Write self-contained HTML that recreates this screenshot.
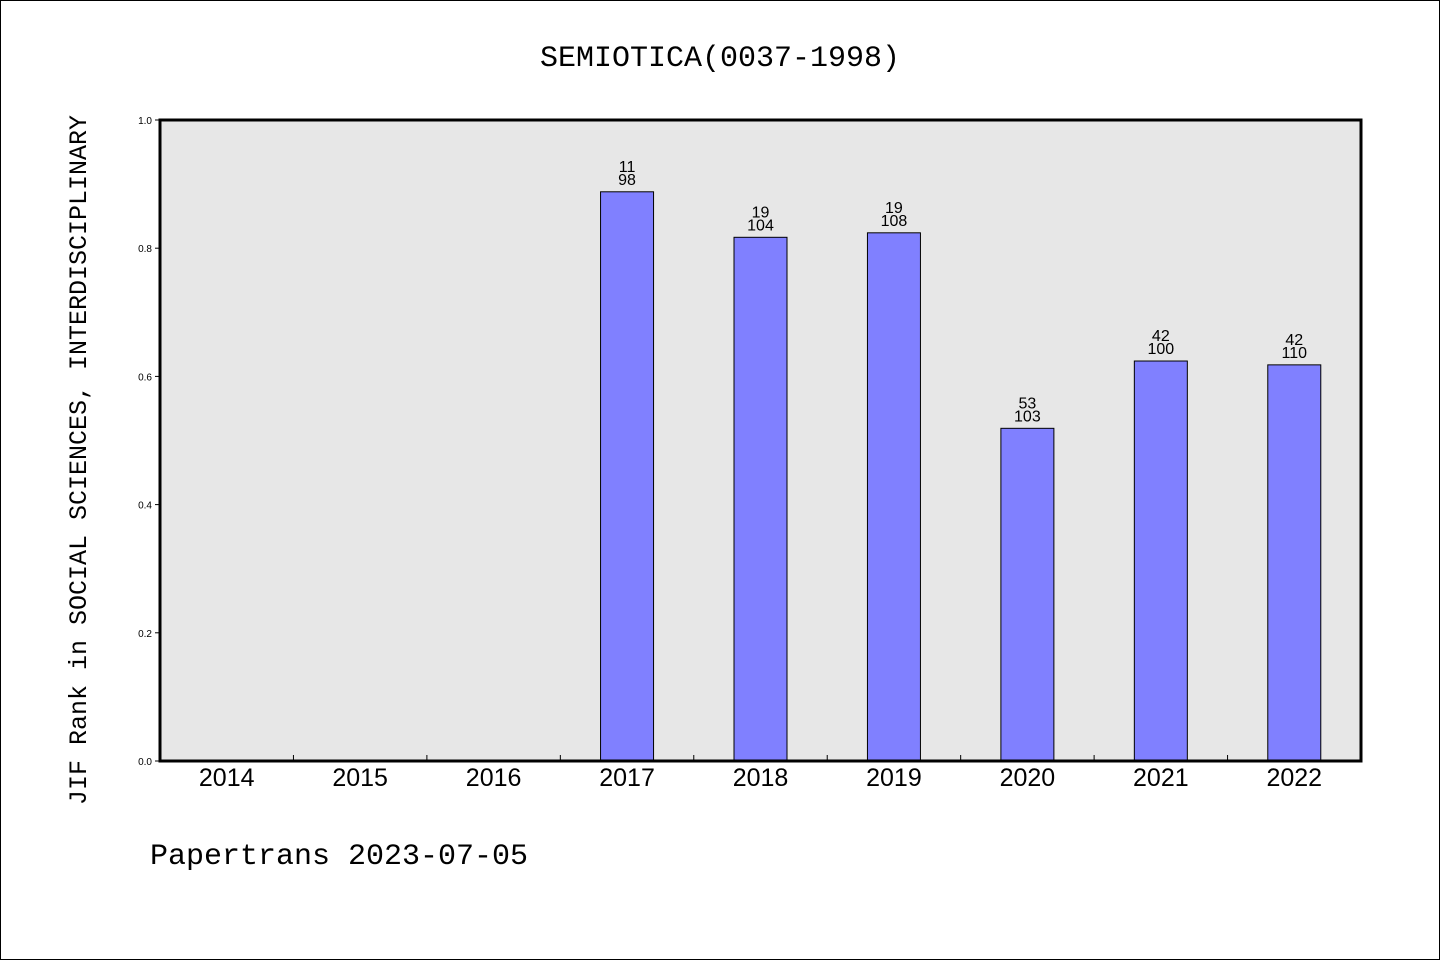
<!DOCTYPE html>
<html><head><meta charset="utf-8"><style>
body{margin:0;background:#fff}
svg{display:block;font-family:"Liberation Mono","DejaVu Sans Mono",monospace}
</style></head><body>
<svg id="chart" width="1440" height="960">
<rect x="0.5" y="0.5" width="1439" height="959" fill="#fff" stroke="#000"/>
<text x="720" y="66" text-anchor="middle" font-size="30">SEMIOTICA(0037-1998)</text>
<rect x="160" y="120" width="1201" height="641" fill="#e7e7e7"/>
<g id="bars"></g>
<g id="ticks"></g>
<rect x="160" y="120" width="1201" height="641" fill="none" stroke="#000" stroke-width="3"/>
<text transform="translate(86,460) rotate(-90)" text-anchor="middle" font-size="25">JIF Rank in SOCIAL SCIENCES, INTERDISCIPLINARY</text>
<text x="150" y="864" font-size="30">Papertrans 2023-07-05</text>
</svg>
<script>
const categories=["2014","2015","2016","2017","2018","2019","2020","2021","2022"];
const values=[null,null,null,0.888,0.817,0.824,0.519,0.624,0.618];
const ranks=["","","","11","19","19","53","42","42"];
const totals=["","","","98","104","108","103","100","110"];
const yTicks=[0,0.2,0.4,0.6,0.8,1.0];
const ns="http://www.w3.org/2000/svg";
const L=160,R=1361,T=120,B=761;
const bw=(R-L)/categories.length;
const y=v=>B-v*(B-T);
const xc=i=>L+bw*(i+0.5);
function mk(tag,attrs,parent,text){const e=document.createElementNS(ns,tag);for(const k in attrs)e.setAttribute(k,attrs[k]);if(text!=null)e.textContent=text;parent.appendChild(e);return e;}
const bars=document.getElementById('bars'),ticks=document.getElementById('ticks');
categories.forEach((c,i)=>{
  const t=mk('text',{x:xc(i),y:B+25,'text-anchor':'middle','font-size':'25','font-family':'Liberation Sans, sans-serif'},ticks,c);
  
  
  if(i>0){const l=mk('line',{x1:L+bw*i,x2:L+bw*i,y1:B,y2:B-6,stroke:'#000'},ticks);
    
    }
  const v=values[i];
  if(v!=null){
    const r=mk('rect',{x:xc(i)-26.5,y:y(v),width:53,height:B-y(v),fill:'#8080ff',stroke:'#000','stroke-width':1},bars);
    
    
    const a=mk('text',{x:xc(i),y:y(v)-20,'text-anchor':'middle','font-size':'16','font-family':'Liberation Sans, sans-serif'},bars,ranks[i]);
    
    
    const b=mk('text',{x:xc(i),y:y(v)-7,'text-anchor':'middle','font-size':'16','font-family':'Liberation Sans, sans-serif'},bars,totals[i]);
    
    
  }
});
yTicks.forEach(v=>{
  const t=mk('text',{x:152,y:y(v)+4,'text-anchor':'end','font-size':'10','font-family':'Liberation Sans, sans-serif'},ticks,v.toFixed(1));
  
  
  const l=mk('line',{x1:155,x2:160,y1:y(v),y2:y(v),stroke:'#000'},ticks);
  
  
});
</script>
</body></html>
